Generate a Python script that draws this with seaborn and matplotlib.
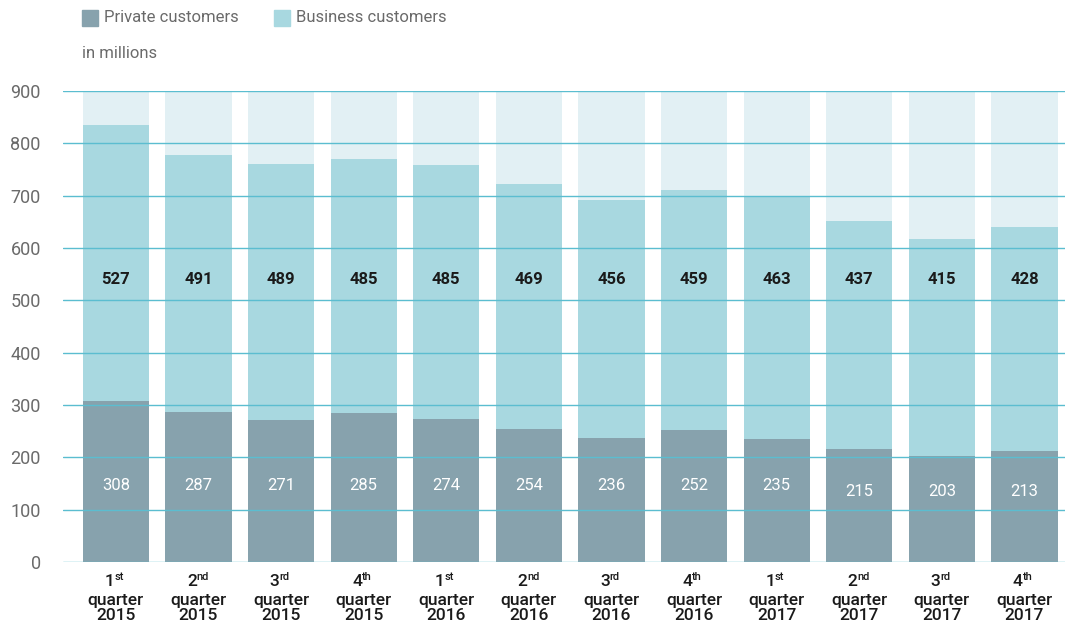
import pandas as pd
import matplotlib
matplotlib.use("Agg")
import matplotlib.pyplot as plt
import matplotlib.transforms as mtransforms
import seaborn as sns

# data (in millions)
quarters = ["1st 2015", "2nd 2015", "3rd 2015", "4th 2015",
            "1st 2016", "2nd 2016", "3rd 2016", "4th 2016",
            "1st 2017", "2nd 2017", "3rd 2017", "4th 2017"]
ordinals = ["1", "2", "3", "4", "1", "2", "3", "4", "1", "2", "3", "4"]
suffixes = ["st", "nd", "rd", "th", "st", "nd", "rd", "th", "st", "nd", "rd", "th"]
years = ["2015"] * 4 + ["2016"] * 4 + ["2017"] * 4
private = [308, 287, 271, 285, 274, 254, 236, 252, 235, 215, 203, 213]
business = [527, 491, 489, 485, 485, 469, 456, 459, 463, 437, 415, 428]
y_max = 900

c_private = "#87a2ad"
c_business = "#a8d8e0"
c_back = "#e2f0f4"
c_grid = "#5bbdd0"
c_text = "#6a6a6a"
font = "Roboto"
W, H = 1065, 626

df = pd.DataFrame({"quarter": quarters, "private": private, "business": business})
df["total"] = df["private"] + df["business"]
df["back"] = y_max

sns.set_theme(style="white")
plt.rcParams["font.family"] = ["Roboto", "DejaVu Sans"]

fig = plt.figure(figsize=(W / 100, H / 100), dpi=100)
ax = fig.add_axes([63 / W, 1 - 562 / H, 1 - 63 / W, (562 - 91) / H])

for col, colr in [("back", c_back), ("total", c_business), ("private", c_private)]:
    sns.barplot(data=df, x="quarter", y=col, color=colr, saturation=1, width=0.8,
                linewidth=0, ax=ax)

ax.set_ylim(0, y_max)
ax.set_xlim(-0.64, 11.49)
ax.set_yticks(range(0, 901, 100))
ax.grid(axis="y", color=c_grid, lw=1)
ax.set_axisbelow(False)
for s in ax.spines.values():
    s.set_visible(False)
ax.set_xlabel("")
ax.set_ylabel("")
ax.tick_params(axis="y", length=0, pad=16, labelsize=13, labelcolor=c_text)
ax.set_xticks(range(len(quarters)))
ax.set_xticklabels([])
ax.tick_params(axis="x", length=0)

# three-line category labels: ordinal with superscript, "quarter", year
tr = mtransforms.blended_transform_factory(ax.transData, fig.transFigure)
lbl = dict(fontfamily=font, fontweight="medium", color="#1a1a1a", transform=tr,
           va="center")
for i, (o, s, y) in enumerate(zip(ordinals, suffixes, years)):
    ax.text(i - 0.02, 1 - 582 / H, o, ha="right", fontsize=12.5, **lbl)
    ax.text(i - 0.02, 1 - 577 / H, s, ha="left", fontsize=8, **lbl)
    ax.text(i, 1 - 600 / H, "quarter", ha="center", fontsize=12.5, **lbl)
    ax.text(i, 1 - 616 / H, y, ha="center", fontsize=12.5, **lbl)

for i, (p, b) in enumerate(zip(private, business)):
    ax.text(i, 540, str(b), ha="center", va="center", fontsize=12,
            fontfamily=font, fontweight="bold", color="#1a1a1a")
    yp = 147 if p >= 230 else 134
    ax.text(i, yp, str(p), ha="center", va="center", fontsize=12,
            fontfamily=font, color="white")

# legend and unit note
fig.patches.append(plt.Rectangle((82 / W, 1 - 26 / H), 16 / W, 16 / H,
                                 transform=fig.transFigure, color=c_private))
fig.text(104 / W, 1 - 18 / H, "Private customers", va="center", fontsize=12,
         color=c_text)
fig.patches.append(plt.Rectangle((274 / W, 1 - 26 / H), 16 / W, 16 / H,
                                 transform=fig.transFigure, color=c_business))
fig.text(296 / W, 1 - 18 / H, "Business customers", va="center", fontsize=12,
         color=c_text)
fig.text(82 / W, 1 - 54 / H, "in millions", va="center", fontsize=12,
         color=c_text)

fig.savefig("out.png", dpi=100)
